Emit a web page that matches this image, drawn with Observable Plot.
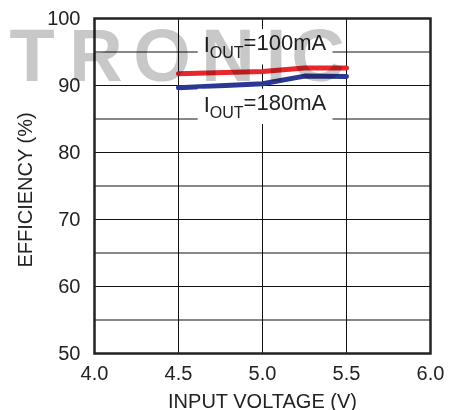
<!DOCTYPE html>
<html>
<head>
<meta charset="utf-8">
<script src="https://cdn.jsdelivr.net/npm/d3@7"></script>
<script src="https://cdn.jsdelivr.net/npm/@observablehq/plot@0.6"></script>
<style>
  body { margin: 0; background: white; }
</style>
</head>
<body>
<div id="chart"></div>
<script>
// Data
const vin = [4.5, 5.0, 5.25, 5.5];
const eff100 = [91.75, 92.1, 92.6, 92.6];
const eff180 = [89.65, 90.25, 91.4, 91.35];
const xTicks = [4.0, 4.5, 5.0, 5.5, 6.0];
const yTicks = [50, 60, 70, 80, 90, 100];
const xGrid = [4.5, 5.0, 5.5];
const yGrid = [55, 60, 65, 70, 75, 80, 85, 90, 95];
const seriesNames = ["IOUT=100mA", "IOUT=180mA"];
const seriesColors = ["#e8262b", "#2b3794"];
const labelX = [4.65, 4.65];
const labelY = [96.0, 87.1];

const rows = [
  ...vin.map((v, i) => ({v, e: eff100[i], s: seriesNames[0]})),
  ...vin.map((v, i) => ({v, e: eff180[i], s: seriesNames[1]}))
];
const labels = seriesNames.map((s, i) => ({s, x: labelX[i], y: labelY[i]}));

const chart = Plot.plot({
  width: 455,
  height: 410,
  marginLeft: 94,
  marginRight: 25,
  marginTop: 18,
  marginBottom: 57,
  style: {fontFamily: "Liberation Sans, Arial, sans-serif", fontSize: "20px", color: "#222", background: "white"},
  x: {domain: [4, 6]},
  y: {domain: [50, 100]},
  color: {domain: seriesNames, range: seriesColors},
  marks: [
    Plot.gridX(xGrid, {stroke: "#111", strokeOpacity: 1, strokeWidth: 1}),
    Plot.gridY(yGrid, {stroke: "#111", strokeOpacity: 1, strokeWidth: 1}),
    Plot.axisX(xTicks, {tickSize: 0, tickPadding: 12, tickFormat: d3.format(".1f"), label: null, fontSize: 20}),
    Plot.axisY(yTicks, {tickSize: 0, tickPadding: 14, label: null, fontSize: 20}),
    Plot.text(["INPUT VOLTAGE (V)"], {frameAnchor: "bottom", textAnchor: "middle", lineAnchor: "middle", dy: 48, fontSize: 20}),
    Plot.text(["EFFICIENCY (%)"], {frameAnchor: "left", textAnchor: "middle", lineAnchor: "middle", dx: -69, dy: 4, rotate: -90, fontSize: 20}),
    Plot.line(rows, {x: "v", y: "e", stroke: "s", z: "s", strokeWidth: 5}),
    Plot.text(labels, {x: "x", y: "y", text: "s", textAnchor: "start", fontSize: 22, fill: "#222"}),
    Plot.frame({stroke: "#222", strokeWidth: 2.5})
  ]
});
document.getElementById("chart").appendChild(chart);

// Subscripts and white boxes behind the current labels
d3.select(chart).selectAll("text").filter(function () {
  return seriesNames.includes(this.textContent);
}).each(function () {
  const t = d3.select(this);
  const full = this.textContent;
  const rest = full.slice(4);
  t.text(null);
  t.append("tspan").text("I");
  t.append("tspan").attr("font-size", 16).attr("dy", "0.38em").text("OUT");
  t.append("tspan").attr("dy", "-0.38em").text(rest);
  const b = this.getBBox();
  d3.select(this.parentNode).insert("rect", () => this)
    .attr("x", b.x - 6).attr("y", b.y - 1)
    .attr("width", b.width + 12).attr("height", b.height + 4)
    .attr("fill", "white").attr("stroke", "none")
    .attr("transform", this.getAttribute("transform"));
});

// Partially clipped title at the top (only descenders visible)
const titleStr = "Efficiency vs Input Voltage";
const title = d3.select(chart).append("text")
  .attr("x", 0).attr("y", -9)
  .attr("font-size", 31).attr("font-weight", "bold").attr("fill", "#111")
  .text(titleStr);
{
  const node = title.node();
  const ip = titleStr.indexOf("p"), ig = titleStr.lastIndexOf("g");
  const pc = (node.getStartPositionOfChar(ip).x + node.getEndPositionOfChar(ip).x) / 2;
  const gc = (node.getStartPositionOfChar(ig).x + node.getEndPositionOfChar(ig).x) / 2;
  const k = 136 / (gc - pc);
  title.attr("font-size", 31 * k);
  const pc2 = (node.getStartPositionOfChar(ip).x + node.getEndPositionOfChar(ip).x) / 2;
  title.attr("x", 122 - pc2);
}

// Watermark
const wm = d3.select(chart).append("g")
  .attr("fill", "#c8c8c8").attr("font-size", 74).attr("font-weight", "bold")
  .attr("font-family", "Liberation Sans, Arial, sans-serif").attr("text-anchor", "middle");
[["T", 32], ["R", 96], ["O", 162], ["N", 228], ["I", 276], ["C", 318]].forEach(([ch, cx]) => {
  wm.append("text").attr("x", cx).attr("y", 81).attr("style", "mix-blend-mode: multiply").text(ch);
});
</script>
</body>
</html>
